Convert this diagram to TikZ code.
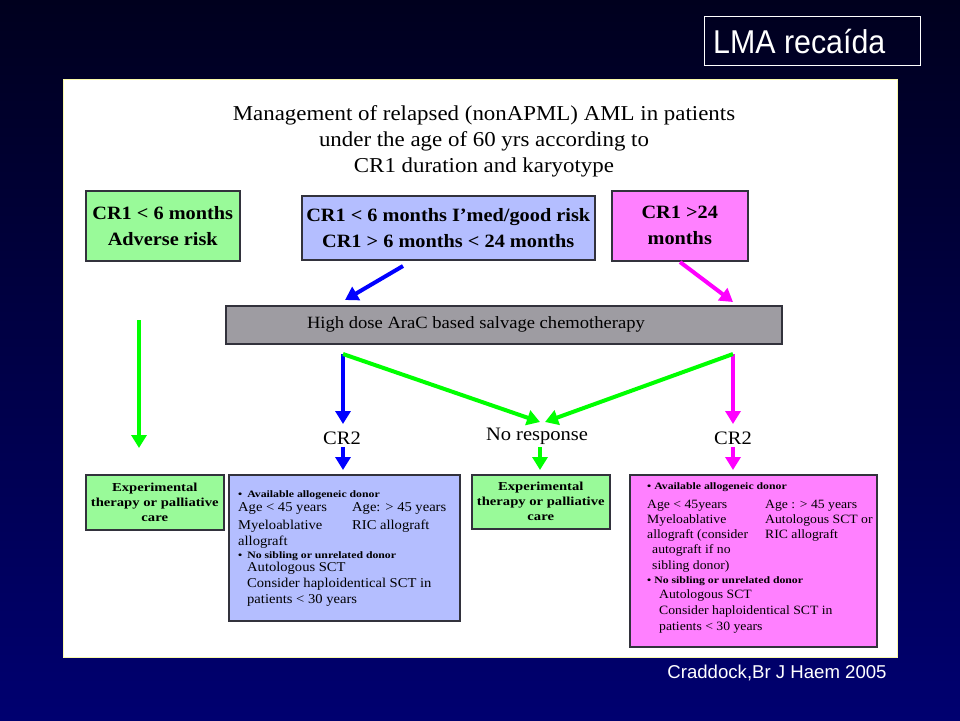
\documentclass[tikz,border=0pt]{standalone}
\usepackage{fontspec}
\setmainfont{Liberation Serif}[FakeStretch=1.08]
\newfontfamily\sansf{Liberation Sans}
\newfontfamily\wideb{Liberation Serif}[FakeStretch=1.2]
\usetikzlibrary{arrows.meta}
\definecolor{bgtop}{RGB}{0,0,30}
\definecolor{bgbot}{RGB}{0,0,112}
\definecolor{gfill}{RGB}{153,250,153}
\definecolor{bfill}{RGB}{180,190,255}
\definecolor{mfill}{RGB}{255,128,255}
\definecolor{grayfill}{RGB}{158,156,162}
\definecolor{arrB}{RGB}{0,0,255}
\definecolor{arrG}{RGB}{0,255,0}
\definecolor{arrM}{RGB}{255,0,255}
\definecolor{panelline}{RGB}{250,250,170}
\definecolor{boxline}{RGB}{50,50,60}
\tikzset{
  boxnode/.style={draw=boxline, line width=1.5pt, anchor=north west, inner sep=0pt},
  topfont/.style={font=\bfseries\fontsize{18.8}{26}\selectfont, align=center},
  smallbold/.style={font=\wideb\bfseries\fontsize{9.8}{11}\selectfont, anchor=base west, inner sep=0pt},
  bodytxt/.style={font=\fontsize{13.5}{16}\selectfont, anchor=base west, inner sep=0pt},
  magtxt/.style={font=\fontsize{12.7}{16}\selectfont, anchor=base west, inner sep=0pt},
  greentxt/.style={font=\wideb\bfseries\fontsize{12.2}{15}\selectfont, align=center},
  flow/.style={line width=4pt, -{Triangle[length=13pt,width=15pt]}},
  lbl/.style={font=\fontsize{19}{22}\selectfont, anchor=base, inner sep=0pt}
}
\begin{document}
\begin{tikzpicture}[x=1pt,y=-1pt]
\useasboundingbox (0,0) rectangle (960,720);
\fill[top color=bgtop,bottom color=bgbot] (0,0) rectangle (960,720);
% header box
\node[draw=white, line width=1pt, anchor=north west, minimum width=216pt, minimum height=49pt, inner sep=0pt] (lmabox) at (704,16) {};
\node[text=white, font=\sansf\fontsize{33}{36}\selectfont, anchor=base west, inner sep=0pt] (lmatext) at (713,53) {\scalebox{0.92}[1]{LMA recaída}};
% panel
\node[draw=panelline, fill=white, line width=1pt, anchor=north west, minimum width=834pt, minimum height=578pt, inner sep=0pt] (panel) at (63,79) {};
% title
\node[font=\fontsize{21.2}{26}\selectfont, anchor=base, inner sep=0pt] (t1) at (484,120) {Management of relapsed (nonAPML) AML in patients};
\node[font=\fontsize{21.2}{26}\selectfont, anchor=base, inner sep=0pt] (t2) at (484,146) {under the age of 60 yrs according to};
\node[font=\fontsize{21.2}{26}\selectfont, anchor=base, inner sep=0pt] (t3) at (484,172) {CR1 duration and karyotype};
% top boxes
\node[boxnode, fill=gfill, minimum width=154pt, minimum height=70pt] (boxA) at (85,190) {};
\node[topfont] (txtA) at (boxA.center) {CR1 < 6 months\\Adverse risk};
\node[boxnode, fill=bfill, minimum width=293pt, minimum height=64pt] (boxB) at (301,195) {};
\node[topfont] (txtB) at (boxB.center) {CR1 < 6 months I’med/good risk\\CR1 > 6 months < 24 months};
\node[boxnode, fill=mfill, minimum width=136pt, minimum height=70pt] (boxC) at (611,190) {};
\node[topfont] (txtC) at (boxC.center) {CR1 >24\\months};
% gray bar
\node[boxnode, fill=grayfill, minimum width=556pt, minimum height=38pt] (bar) at (225,305) {};
\node[font=\fontsize{17.2}{20}\selectfont] (bartxt) at (476,324) {High dose AraC based salvage chemotherapy};
% labels
\node[lbl] (cr2a) at (342,444) {CR2};
\node[lbl] (nores) at (537,440) {No response};
\node[lbl] (cr2b) at (733,444) {CR2};
% coordinates for connectors
\coordinate (bs) at (403,266); \coordinate (be) at (345,300);
\coordinate (ms) at (680,262); \coordinate (me) at (733,302);
\coordinate (gls) at (139,320); \coordinate (gle) at (139,448);
\coordinate (bl) at (343,354); \coordinate (br) at (733,354);
\coordinate (bld) at (343,424); \coordinate (brd) at (733,424);
\coordinate (nrl) at (540,422); \coordinate (nrr) at (545,422);
\coordinate (s1a) at (343,447); \coordinate (s1b) at (343,470);
\coordinate (s2a) at (540,447); \coordinate (s2b) at (540,470);
\coordinate (s3a) at (733,447); \coordinate (s3b) at (733,470);
% arrows
\draw[flow, arrB] (bs) -- (be);
\draw[flow, arrM] (ms) -- (me);
\draw[flow, arrG] (gls) -- (gle);
\draw[flow, arrB] (bl) -- (bld);
\draw[flow, arrM] (br) -- (brd);
\draw[flow, arrG] (bl) -- (nrl);
\draw[flow, arrG] (br) -- (nrr);
\draw[flow, arrB] (s1a) -- (s1b);
\draw[flow, arrG] (s2a) -- (s2b);
\draw[flow, arrM] (s3a) -- (s3b);
% bottom boxes
\node[boxnode, fill=gfill, minimum width=138pt, minimum height=55pt] (gbL) at (85,474) {};
\node[greentxt] (gbLt) at (gbL.center) {Experimental\\therapy or palliative\\care};
\node[boxnode, fill=gfill, minimum width=138pt, minimum height=54pt] (gbM) at (471,474) {};
\node[greentxt] (gbMt) at (gbM.center) {Experimental\\therapy or palliative\\care};
\node[boxnode, fill=bfill, minimum width=231pt, minimum height=146pt] (bbox) at (228,474) {};
\node[boxnode, fill=mfill, minimum width=247pt, minimum height=172pt] (mbox) at (629,474) {};
% blue box text
\node[smallbold] (b1) at (238,497) {•\hspace{5pt}Available allogeneic donor};
\node[bodytxt] (b2) at (238,511) {Age < 45 years};
\node[bodytxt] (b2r) at (352,511) {Age: > 45 years};
\node[bodytxt] (b3) at (238,529) {Myeloablative};
\node[bodytxt] (b3r) at (352,529) {RIC allograft};
\node[bodytxt] (b4) at (238,545) {allograft};
\node[smallbold] (b5) at (238,558) {•\hspace{5pt}No sibling or unrelated donor};
\node[bodytxt] (b6) at (247,571) {Autologous SCT};
\node[bodytxt] (b7) at (247,587) {Consider haploidentical SCT in};
\node[bodytxt] (b8) at (247,603) {patients < 30 years};
% magenta box text
\node[smallbold] (m1) at (647,489.5) {•\hspace{3pt}Available allogeneic donor};
\node[magtxt] (m2) at (647,508) {Age < 45years};
\node[magtxt] (m2r) at (765,508) {Age : > 45 years};
\node[magtxt] (m3) at (647,523.5) {Myeloablative};
\node[magtxt] (m3r) at (765,523.5) {Autologous SCT or};
\node[magtxt] (m4) at (647,538) {allograft (consider};
\node[magtxt] (m4r) at (765,538) {RIC allograft};
\node[magtxt] (m5) at (652,553.5) {autograft if no};
\node[magtxt] (m6) at (652,569) {sibling donor)};
\node[smallbold] (m7) at (647,583.5) {•\hspace{3pt}No sibling or unrelated donor};
\node[magtxt] (m8) at (659,598.5) {Autologous SCT};
\node[magtxt] (m9) at (659,614.5) {Consider haploidentical SCT in};
\node[magtxt] (m10) at (659,630) {patients < 30 years};
% citation
\node[text=white, font=\sansf\fontsize{18.6}{20}\selectfont, anchor=base, inner sep=0pt] (cite) at (777,678) {Craddock,Br J Haem 2005};
\end{tikzpicture}
\end{document}
